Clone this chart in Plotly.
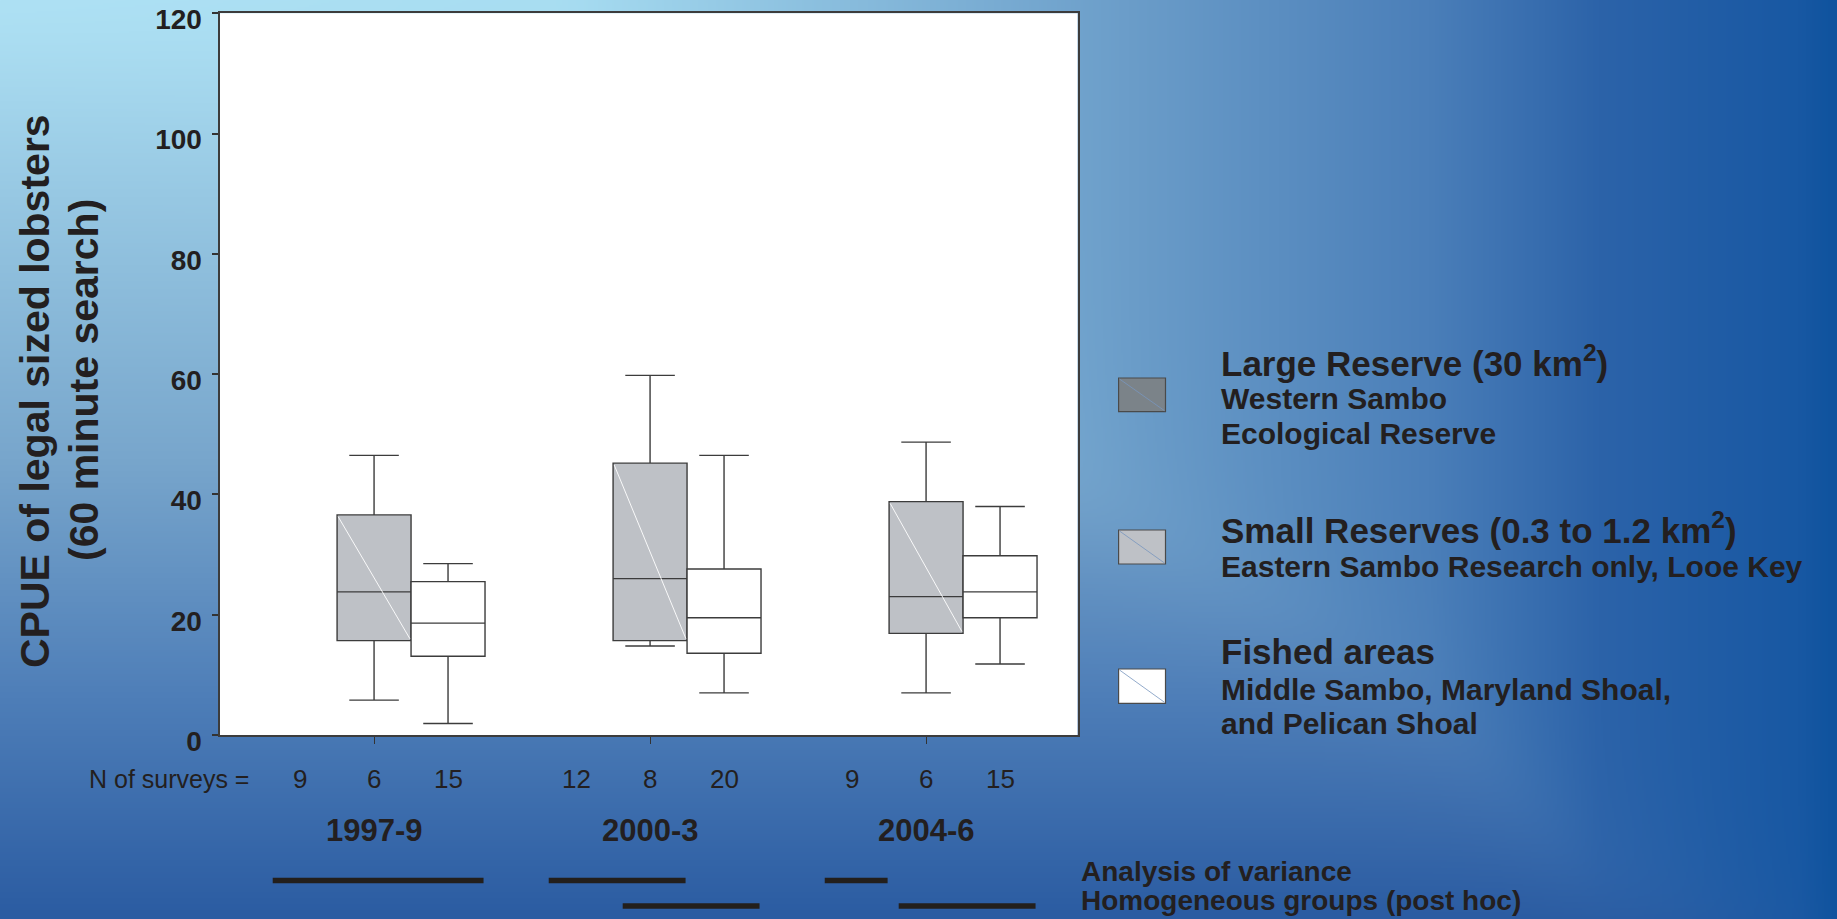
import base64
import struct
import zlib

import numpy as np
import plotly.graph_objects as go

# ---------------- data ----------------
periods = ["1997-9", "2000-3", "2004-6"]
n_large = [9, 12, 9]
n_small = [6, 8, 6]
n_fished = [15, 20, 15]

small_lf = [5.8, 14.8, 7.0]
small_q1 = [15.7, 15.7, 16.9]
small_med = [23.8, 26.0, 23.0]
small_q3 = [36.6, 45.2, 38.8]
small_uf = [46.5, 59.8, 48.7]

fished_lf = [1.9, 7.0, 11.8]
fished_q1 = [13.1, 13.6, 19.5]
fished_med = [18.6, 19.5, 23.8]
fished_q3 = [25.5, 27.6, 29.8]
fished_uf = [28.5, 46.5, 38.0]

y_ticks = [0, 20, 40, 60, 80, 100, 120]

# homogeneous groups: (period index, first slot, last slot); slots 0=large, 1=small, 2=fished
anova_groups = [(0, 0, 2), (1, 0, 1), (2, 0, 0)]
posthoc_groups = [(1, 1, 2), (2, 1, 2)]

legend_titles = ["Large Reserve (30 km<sup>2</sup>)",
                 "Small Reserves (0.3 to 1.2 km<sup>2</sup>)",
                 "Fished areas"]
legend_subtitles = [["Western Sambo", "Ecological Reserve"],
                    ["Eastern Sambo Research only, Looe Key"],
                    ["Middle Sambo, Maryland Shoal,", "and Pelican Shoal"]]

# ---------------- layout constants ----------------
W, H = 1837, 919
PLOT_L, PLOT_R, PLOT_T, PLOT_B = 219.5, 1077.6, 13.3, 735.0
X_RANGE = [-0.56, 2.549]
SLOT = 0.268
FONT = "Liberation Sans, Arial, sans-serif"
TXT = "#231f20"
LINE = "#3c3c3c"


def px(x):
    return x / W


def py(y):
    return 1 - y / H


def slot_x(i, s):
    return i + (s - 1) * SLOT


# ---------------- background gradient image ----------------
def png_data_uri(rgb):
    h, w, _ = rgb.shape
    raw = b"".join(b"\x00" + rgb[r].tobytes() for r in range(h))

    def chunk(tag, data):
        c = struct.pack(">I", len(data)) + tag + data
        return c + struct.pack(">I", zlib.crc32(tag + data) & 0xFFFFFFFF)

    png = (b"\x89PNG\r\n\x1a\n"
           + chunk(b"IHDR", struct.pack(">IIBBBBB", w, h, 8, 2, 0, 0, 0))
           + chunk(b"IDAT", zlib.compress(raw, 9))
           + chunk(b"IEND", b""))
    return "data:image/png;base64," + base64.b64encode(png).decode()


gw, gh = 920, 460
xs = np.linspace(0, W, gw)
ys = np.linspace(0, H, gh)
hx = [0, 560, 1130, 1430, 1600, 1800, 1837]
hc = np.array([(174, 225, 244), (166, 220, 241), (107, 157, 201),
               (75, 127, 185), (44, 99, 169), (24, 88, 163), (15, 83, 158)], float)
vy = [0, 460, 700, 919]
vc = np.array([(174, 225, 244), (120, 166, 204), (78, 126, 184), (43, 92, 162)], float)
colH = np.stack([np.interp(xs, hx, hc[:, k]) for k in range(3)], axis=-1)
colV = np.stack([np.interp(ys, vy, vc[:, k]) for k in range(3)], axis=-1)
CH = np.broadcast_to(colH[None, :, :], (gh, gw, 3))
CV = np.broadcast_to(colV[:, None, :], (gh, gw, 3))
lum = np.array([0.3, 0.59, 0.11])
lH = CH @ lum
lV = CV @ lum
wgt = 1.0 / (1.0 + np.exp(np.clip((lH - lV) / 5.0, -50, 50)))
bg = wgt[..., None] * CH + (1 - wgt[..., None]) * CV
bg_uri = png_data_uri(np.clip(bg, 0, 255).astype(np.uint8))

# ---------------- figure ----------------
fig = go.Figure()

fig.add_trace(go.Box(
    x=[slot_x(i, 1) for i in range(len(periods))],
    q1=small_q1, median=small_med, q3=small_q3,
    lowerfence=small_lf, upperfence=small_uf,
    width=SLOT, whiskerwidth=0.67, boxpoints=False,
    fillcolor="#bec1c6", line=dict(color=LINE, width=1.4),
    name="Small Reserves", showlegend=False))

fig.add_trace(go.Box(
    x=[slot_x(i, 2) for i in range(len(periods))],
    q1=fished_q1, median=fished_med, q3=fished_q3,
    lowerfence=fished_lf, upperfence=fished_uf,
    width=SLOT, whiskerwidth=0.67, boxpoints=False,
    fillcolor="#ffffff", line=dict(color=LINE, width=1.4),
    name="Fished areas", showlegend=False))

# thin white diagonals inside the shaded boxes
dx, dy = [], []
for i in range(len(periods)):
    c = slot_x(i, 1)
    dx += [c - SLOT / 2 + 0.004, c + SLOT / 2 - 0.004, None]
    dy += [small_q3[i] - 0.3, small_q1[i] + 0.3, None]
fig.add_trace(go.Scatter(x=dx, y=dy, mode="lines",
                         line=dict(color="rgba(255,255,255,0.9)", width=1),
                         hoverinfo="skip", showlegend=False))

annotations = []
shapes = []

# white plot area (drawn above the background image)
shapes.append(dict(type="rect", xref="x domain", yref="y domain", x0=0, x1=1, y0=0, y1=1,
                   fillcolor="#ffffff", line=dict(width=0), layer="below"))

# N of surveys row
annotations.append(dict(text="N of surveys =", xref="paper", yref="paper",
                        x=px(251), y=py(779), xanchor="right", yanchor="middle",
                        showarrow=False, font=dict(family=FONT, size=25, color=TXT)))
for i in range(len(periods)):
    for s, n in enumerate([n_large[i], n_small[i], n_fished[i]]):
        annotations.append(dict(text=str(n), xref="x", yref="paper",
                                x=slot_x(i, s), y=py(779), xanchor="center", yanchor="middle",
                                showarrow=False, font=dict(family=FONT, size=26, color=TXT)))
    annotations.append(dict(text="<b>%s</b>" % periods[i], xref="x", yref="paper",
                            x=i, y=py(830), xanchor="center", yanchor="middle",
                            showarrow=False, font=dict(family=FONT, size=31, color=TXT)))

# y-axis title (two lines)
annotations.append(dict(text="<b>CPUE of legal sized lobsters</b>", xref="paper", yref="paper",
                        x=px(35), y=py(391), xanchor="center", yanchor="middle", textangle=-90,
                        showarrow=False, font=dict(family=FONT, size=41, color=TXT)))
annotations.append(dict(text="<b>(60 minute search)</b>", xref="paper", yref="paper",
                        x=px(84), y=py(380), xanchor="center", yanchor="middle", textangle=-90,
                        showarrow=False, font=dict(family=FONT, size=41, color=TXT)))

# homogeneous-group bars
for rows, ypix in [(anova_groups, 880.5), (posthoc_groups, 906.0)]:
    for (i, s0, s1) in rows:
        shapes.append(dict(type="line", xref="x", yref="paper",
                           x0=slot_x(i, s0) - 0.37 * SLOT, x1=slot_x(i, s1) + 0.48 * SLOT,
                           y0=py(ypix), y1=py(ypix),
                           line=dict(color="#231f1c", width=5.5)))
annotations.append(dict(text="<b>Analysis of variance</b>", xref="paper", yref="paper",
                        x=px(1079), y=py(871.5), xanchor="left", yanchor="middle",
                        showarrow=False, font=dict(family=FONT, size=28, color=TXT)))
annotations.append(dict(text="<b>Homogeneous groups (post hoc)</b>", xref="paper", yref="paper",
                        x=px(1079), y=py(900), xanchor="left", yanchor="middle",
                        showarrow=False, font=dict(family=FONT, size=28, color=TXT)))

# custom legend
swatch_fill = ["#7b8389", "#bec1c6", "#ffffff"]
swatch_y = [(378, 411.7), (530, 564), (669, 703.3)]
title_y = [361, 527.5, 651.5]
sub_y = [[398.5, 433], [566], [689, 723]]
for k in range(3):
    y0, y1 = swatch_y[k]
    shapes.append(dict(type="rect", xref="paper", yref="paper",
                       x0=px(1118.6), x1=px(1165.5), y0=py(y1), y1=py(y0),
                       fillcolor=swatch_fill[k], line=dict(color="#4a4a4a", width=1.2)))
    shapes.append(dict(type="line", xref="paper", yref="paper",
                       x0=px(1119.5), x1=px(1164.5), y0=py(y0 + 1), y1=py(y1 - 1),
                       line=dict(color="rgba(120,150,190,0.8)", width=1)))
    annotations.append(dict(text="<b>%s</b>" % legend_titles[k], xref="paper", yref="paper",
                            x=px(1219), y=py(title_y[k]), xanchor="left", yanchor="middle",
                            showarrow=False, font=dict(family=FONT, size=35, color=TXT)))
    for t, yy in zip(legend_subtitles[k], sub_y[k]):
        annotations.append(dict(text="<b>%s</b>" % t, xref="paper", yref="paper",
                                x=px(1219), y=py(yy), xanchor="left", yanchor="middle",
                                showarrow=False, font=dict(family=FONT, size=30, color=TXT)))

fig.update_layout(
    width=W, height=H,
    margin=dict(l=0, r=0, t=0, b=0, pad=0),
    paper_bgcolor="#2c5da2", plot_bgcolor="#ffffff",
    showlegend=False, boxmode="overlay",
    images=[dict(source=bg_uri, xref="paper", yref="paper", x=0, y=1,
                 sizex=1, sizey=1, sizing="stretch", xanchor="left", yanchor="top",
                 layer="below")],
    xaxis=dict(domain=[px(PLOT_L), px(PLOT_R)], range=X_RANGE,
               tickmode="array", tickvals=list(range(len(periods))),
               showticklabels=False, ticks="outside", ticklen=7, tickwidth=1.2,
               tickcolor="#333333", showgrid=False, zeroline=False,
               showline=True, linecolor=LINE, linewidth=2, mirror=True,
               automargin=False, fixedrange=True),
    yaxis=dict(domain=[py(PLOT_B), py(PLOT_T)], range=[0, 120],
               tickmode="array", tickvals=y_ticks,
               ticktext=["<b>%d</b>" % v for v in y_ticks],
               ticks="outside", ticklen=6, tickwidth=1.5, tickcolor="#333333",
               tickfont=dict(family=FONT, size=28, color=TXT),
               ticklabelstandoff=4, ticklabelshift=6, ticklabeloverflow="allow",
               showgrid=False, zeroline=False,
               showline=True, linecolor=LINE, linewidth=2, mirror=True,
               automargin=False, fixedrange=True),
    annotations=annotations,
    shapes=shapes,
)

fig.write_html("out.html",
               config={"displayModeBar": False},
               post_script="document.body.style.margin='0';document.body.style.overflow='hidden';")
